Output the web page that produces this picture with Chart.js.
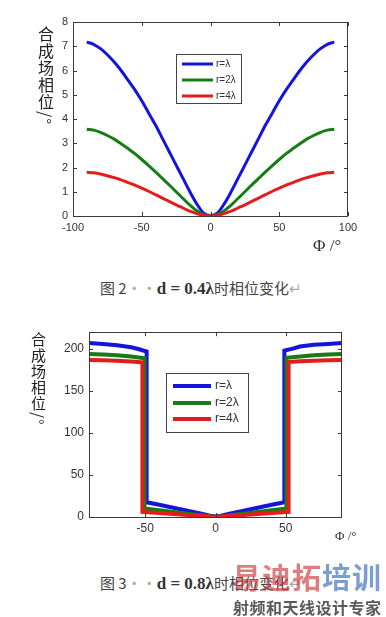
<!DOCTYPE html>
<html>
<head>
<meta charset="utf-8">
<script src="https://cdn.jsdelivr.net/npm/chart.js@4"></script>
<style>
  body { margin: 0; background: #fff; width: 386px; height: 617px; overflow: hidden; position: relative; }
  canvas { position: absolute; left: 0; }
  .ytitle { position: absolute; writing-mode: vertical-rl; font-family: "Noto Sans CJK SC"; color: #222; white-space: nowrap; }
  .xtitle { position: absolute; font-family: "Liberation Serif"; color: #333; white-space: nowrap; }
  .cap { position: absolute; left: 100px; font-family: "Noto Sans CJK SC"; font-size: 15px; color: #444; white-space: nowrap; line-height: 18px; }
  .cap b { font-family: "Liberation Serif"; font-size: 17px; color: #333; }
  .cap .dots, .cap .ret { color: #aaa; }
  .wm1 { position: absolute; left: 232px; top: 559px; font-family: "Noto Sans CJK SC"; font-weight: bold; font-size: 29px; line-height: 34px; letter-spacing: 1px; white-space: nowrap; }
  .wm2 { position: absolute; left: 233px; top: 598px; font-family: "Noto Sans CJK SC"; font-weight: bold; font-size: 16px; line-height: 18px; color: #5a5a5a; white-space: nowrap; letter-spacing: 0.5px; }
</style>
</head>
<body>
<canvas id="chart1" width="386" height="260" style="top:0"></canvas>
<canvas id="chart2" width="386" height="230" style="top:320px"></canvas>

<div class="ytitle" style="left:34px; top:26px; font-size:16px; letter-spacing:1px;">合成场相位/°</div>
<div class="xtitle" style="left:313px; top:236px; font-size:17px;">Φ /°</div>
<div class="cap" style="top:279px;">图 2<span class="dots">··</span><b>d = 0.4λ</b>时相位变化<span class="ret">↵</span></div>

<div class="ytitle" style="left:28px; top:332px; font-size:15px; letter-spacing:1px;">合成场相位/°</div>
<div class="xtitle" style="left:335px; top:528px; font-size:13px;">Φ /°</div>
<div class="cap" style="top:574px;">图 3<span class="dots">··</span><b>d = 0.8λ</b>时相位变化<span class="ret">↵</span></div>

<div class="wm1"><span style="color:rgba(205,55,55,0.65)">易迪拓</span><span style="color:rgba(60,110,185,0.68)">培训</span></div>
<div class="wm2">射频和天线设计专家</div>

<script>
// Figure 2 (d = 0.4 lambda): phase vs angle
var phi1 = [-90,-85,-80,-75,-70,-65,-60,-55,-50,-45,-40,-35,-30,-25,-20,-15,-10,-5,0,
            5,10,15,20,25,30,35,40,45,50,55,60,65,70,75,80,85,90];
var phaseR1 = [7.17,7.08,6.9,6.65,6.35,6.0,5.6,5.2,4.75,4.25,3.75,3.2,2.65,2.1,1.55,1.0,0.5,0.12,0.02,
               0.12,0.5,1.0,1.55,2.1,2.65,3.2,3.75,4.25,4.75,5.2,5.6,6.0,6.35,6.65,6.9,7.08,7.17];
var phaseR2 = [3.58,3.54,3.45,3.32,3.17,2.98,2.78,2.57,2.33,2.08,1.82,1.55,1.28,1.0,0.72,0.45,0.22,0.06,0.01,
               0.06,0.22,0.45,0.72,1.0,1.28,1.55,1.82,2.08,2.33,2.57,2.78,2.98,3.17,3.32,3.45,3.54,3.58];
var phaseR4 = [1.8,1.78,1.73,1.66,1.58,1.49,1.38,1.27,1.15,1.02,0.88,0.74,0.6,0.46,0.33,0.2,0.1,0.03,0.0,
               0.03,0.1,0.2,0.33,0.46,0.6,0.74,0.88,1.02,1.15,1.27,1.38,1.49,1.58,1.66,1.73,1.78,1.8];

// Figure 3 (d = 0.8 lambda): each curve has its own jump angle
var phiB = [-90,-80,-70,-60,-55,-49,-49,-40,-30,-20,-10,-4,0,4,10,20,30,40,49,49,55,60,70,80,90];
var phaseB = [207,206,204.5,202,200,197,17.5,14.5,11,7.5,4,1.5,0.5,1.5,4,7.5,11,14.5,17.5,198,200.5,203,205,206,207];
var phiG = [-90,-80,-70,-60,-50.5,-50.5,-40,-30,-20,-10,-4,0,4,10,20,30,40,50.5,50.5,60,70,80,90];
var phaseG = [194,193.5,192.5,191,189,10,8,6,4,2,0.8,0.3,0.8,2,4,6,8,10,189.5,191,192.5,193.5,194];
var phiR = [-90,-80,-70,-60,-52,-52,-40,-30,-20,-10,-4,0,4,10,20,30,40,52,52,60,70,80,90];
var phaseR = [187,186.5,186,185,184,6,4.8,3.6,2.4,1.2,0.5,0.2,0.5,1.2,2.4,3.6,4.8,6,184.5,185.5,186,186.5,187];

var seriesNames = ['r=λ', 'r=2λ', 'r=4λ'];
var seriesColors = ['#1414dc', '#167d16', '#e41c1c'];

function pts(xs, ys) {
  return xs.map(function (x, i) { return { x: x, y: ys[i] }; });
}

Chart.defaults.font.family = 'Liberation Sans';
Chart.defaults.color = '#333';

// MATLAB style box with inward ticks on all four sides
var boxPlugin = {
  id: 'matlabBox',
  afterDatasetsDraw: function (chart, args, opts) {
    var ctx = chart.ctx, a = chart.chartArea, xs = chart.scales.x, ys = chart.scales.y;
    var len = opts.tick || 4;
    ctx.save();
    ctx.strokeStyle = '#3a3a3a';
    ctx.lineWidth = 1;
    ctx.strokeRect(Math.round(a.left) + 0.5, Math.round(a.top) + 0.5,
                   Math.round(a.right - a.left) - 1, Math.round(a.bottom - a.top));
    ctx.beginPath();
    xs.ticks.forEach(function (t) {
      var px = Math.round(xs.getPixelForValue(t.value)) + 0.5;
      ctx.moveTo(px, a.bottom); ctx.lineTo(px, a.bottom - len);
      ctx.moveTo(px, a.top); ctx.lineTo(px, a.top + len);
    });
    ys.ticks.forEach(function (t) {
      var py = Math.round(ys.getPixelForValue(t.value)) + 0.5;
      ctx.moveTo(a.left, py); ctx.lineTo(a.left + len, py);
      ctx.moveTo(a.right, py); ctx.lineTo(a.right - len, py);
    });
    ctx.stroke();
    ctx.restore();
  }
};

// legend box inside the plot
var boxLegend = {
  id: 'boxLegend',
  afterDraw: function (chart, args, o) {
    var ctx = chart.ctx;
    ctx.save();
    ctx.fillStyle = '#fff';
    ctx.fillRect(o.x, o.y, o.w, o.h);
    ctx.strokeStyle = '#444';
    ctx.lineWidth = 1;
    ctx.strokeRect(o.x + 0.5, o.y + 0.5, o.w, o.h);
    ctx.font = o.size + 'px "Liberation Sans"';
    ctx.textBaseline = 'middle';
    chart.data.datasets.forEach(function (ds, i) {
      var yy = o.rows[i];
      ctx.strokeStyle = ds.borderColor;
      ctx.lineWidth = o.lw;
      ctx.beginPath();
      ctx.moveTo(o.l0, yy); ctx.lineTo(o.l1, yy);
      ctx.stroke();
      ctx.fillStyle = '#333';
      ctx.fillText(ds.label, o.tx, yy);
    });
    ctx.restore();
  }
};

function keepSteps(step) {
  return function (scale) {
    scale.ticks = scale.ticks.filter(function (t) { return Math.abs(t.value / step - Math.round(t.value / step)) < 1e-6; });
  };
}

function makeChart(id, datasets, cfg) {
  return new Chart(document.getElementById(id), {
    type: 'line',
    data: { datasets: datasets },
    options: {
      responsive: false,
      animation: false,
      devicePixelRatio: 1,
      layout: { padding: cfg.padding },
      plugins: {
        legend: { display: false },
        tooltip: { enabled: false },
        matlabBox: { tick: 4 },
        boxLegend: cfg.legend
      },
      elements: { point: { radius: 0 } },
      scales: {
        x: {
          type: 'linear', min: cfg.xmin, max: cfg.xmax,
          grid: { display: false, drawTicks: false }, border: { display: false },
          ticks: { stepSize: 50, padding: cfg.xpad, font: { size: cfg.fs }, color: '#333', maxRotation: 0 },
          afterBuildTicks: keepSteps(50),
          afterFit: function (s) { s.height = cfg.xh; }
        },
        y: {
          min: cfg.ymin, max: cfg.ymax,
          grid: { display: false, drawTicks: false }, border: { display: false },
          ticks: { stepSize: cfg.ystep, padding: 5, font: { size: cfg.fs }, color: '#333' },
          afterBuildTicks: keepSteps(cfg.ystep),
          afterFit: function (s) { s.width = cfg.yw; }
        }
      }
    },
    plugins: [boxPlugin, boxLegend]
  });
}

function ds(i, data, lw, smooth, order) {
  var d = {
    label: seriesNames[i], data: data, borderColor: seriesColors[i],
    borderWidth: lw, fill: false, order: order, tension: 0
  };
  if (smooth) d.cubicInterpolationMode = 'monotone';
  return d;
}

makeChart('chart1', [
  ds(0, pts(phi1, phaseR1), 3, true, 3),
  ds(1, pts(phi1, phaseR2), 3, true, 2),
  ds(2, pts(phi1, phaseR4), 3, true, 1)
], {
  padding: { top: 22, left: 0, right: 38, bottom: 22 },
  xmin: -100, xmax: 100, ymin: 0, ymax: 8, ystep: 1,
  xh: 22, yw: 73, xpad: 5, fs: 11,
  legend: { x: 176, y: 54, w: 65, h: 49, rows: [64, 80, 96], l0: 182, l1: 213, tx: 216, size: 10, lw: 3 }
});

makeChart('chart2', [
  ds(0, pts(phiB, phaseB), 4, false, 3),
  ds(1, pts(phiG, phaseG), 4, false, 2),
  ds(2, pts(phiR, phaseR), 4, false, 1)
], {
  padding: { top: 12, left: 0, right: 44, bottom: 13 },
  xmin: -90, xmax: 90, ymin: 0, ymax: 220, ystep: 50,
  xh: 20, yw: 89, xpad: 4, fs: 12,
  legend: { x: 166, y: 53, w: 82, h: 59, rows: [66, 83, 99], l0: 173, l1: 211, tx: 215, size: 12, lw: 4 }
});
</script>
</body>
</html>
